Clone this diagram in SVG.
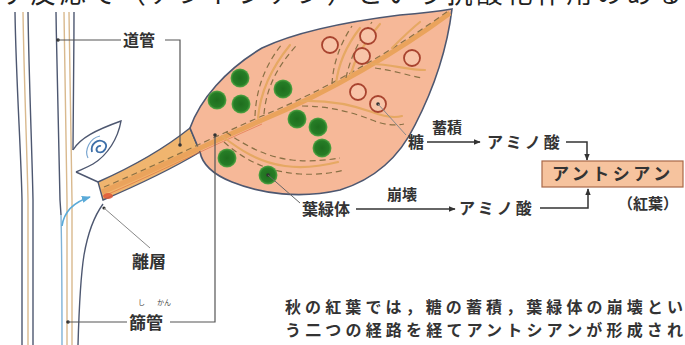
<svg xmlns="http://www.w3.org/2000/svg" width="685" height="345" viewBox="0 0 685 345">
  <defs>
    <marker id="arrow" viewBox="0 0 10 10" refX="9" refY="5" markerWidth="7" markerHeight="7" orient="auto" markerUnits="userSpaceOnUse">
      <path d="M0,1 L10,5 L0,9 z" fill="#333"/>
    </marker>
    <marker id="arrowBlue" viewBox="0 0 10 10" refX="9" refY="5" markerWidth="9" markerHeight="9" orient="auto" markerUnits="userSpaceOnUse">
      <path d="M0,1 L10,5 L0,9 z" fill="#5aaad8"/>
    </marker>
    <radialGradient id="chloro" cx="0.5" cy="0.5" r="0.5">
      <stop offset="0" stop-color="#1e6e1e"/>
      <stop offset="0.75" stop-color="#267d26"/>
      <stop offset="1" stop-color="#58a848"/>
    </radialGradient>
  </defs>
  <style>
    .lbl { font-family: "Noto Sans CJK JP", "Noto Sans", sans-serif; font-weight: 700; fill: #333; }
    .ruby { font-family: "Noto Sans CJK JP", "Noto Sans", sans-serif; font-weight: 400; fill: #444; font-size: 7px; }
    .cap { font-family: "Noto Sans CJK JP", "Noto Sans", sans-serif; font-weight: 700; fill: #333; font-size: 16px; }
    .lead { stroke: #555; stroke-width: 1.2; fill: none; }
    .dot { fill: #333; }
    .flow { stroke: #333; stroke-width: 1.5; fill: none; }
    .bark { stroke: #4d5770; stroke-width: 1.4; fill: none; }
    .tan { stroke: #d9b98e; stroke-width: 1.4; fill: none; }
    .vein { stroke: #e6a863; stroke-width: 2.2; fill: none; stroke-linecap: round; }
    .vdash { stroke: #8a7045; stroke-width: 1.2; fill: none; stroke-dasharray: 6 4; }
    .chl { fill: url(#chloro); }
    .sug { fill: #f8c4a8; stroke: #a8432e; stroke-width: 1.8; }
  </style>

  <rect width="685" height="345" fill="#ffffff"/>

  <!-- running text cut by the top edge -->
  <text x="0" y="3" font-family="'Noto Sans CJK JP', sans-serif" font-size="26" fill="#222" textLength="682" lengthAdjust="spacing">す反応で（アントシアン）という抗酸化作用のある</text>

  <!-- stem -->
  <g id="stem">
    <path class="bark" d="M15,12 C16,80 21,150 22,200 L22,345"/>
    <path class="tan" d="M23,12 C24,80 27,150 28,200 L28,345"/>
    <path class="bark" d="M28,12 C29,80 32,150 33,200 L33,345"/>
    <path class="bark" d="M56,12 C57,80 59,150 60,200 L61,215"/>
    <path d="M61,215 C62,260 62,300 62,345" stroke="#7fb2d6" stroke-width="1.4" fill="none"/>
    <path class="tan" d="M64,12 C65,80 66,150 67,200 L67,345"/>
    <path class="tan" d="M69,12 C70,80 71,150 72,200 L72,345"/>
    <!-- outer bark running into the bud and below the petiole -->
    <path class="bark" d="M74,12 C74,60 73,110 73,150"/>
    <path class="bark" d="M76,172 L98,182"/>
    <path class="bark" d="M103,204 C95,215 88,232 84,255 C80,280 79,310 78,345"/>
  </g>

  <!-- bud -->
  <g id="bud">
    <path d="M73,150 C80,138 96,130 121,121 C118,138 108,155 93,164 C86,168 80,170 76,172" stroke="#4d5770" stroke-width="1.4" fill="#ffffff"/>
    <path d="M92,152 C90,144 98,138 104,142 C109,146 104,154 98,152 C95,150 97,145 101,146" stroke="#3d6fa8" stroke-width="1.8" fill="none"/>
    <path d="M88,158 C84,150 90,138 100,136" stroke="#7aa6d0" stroke-width="1.2" fill="none"/>
  </g>

  <!-- leaf -->
  <g id="leaf">
    <!-- petiole -->
    <path d="M98,182 C125,170 160,152 190,128 L200,152 C180,164 145,182 103,200 Z" fill="#f0b56f" stroke="#4d5770" stroke-width="1.4"/>
    <!-- blade -->
    <path d="M190,128 C200,100 225,70 262,48 C300,30 360,20 400,15 C425,13 440,11 452,9 C447,50 432,92 415,125 C398,160 372,180 340,190 C300,199 262,194 232,182 C212,174 202,163 200,152 Z" fill="#f6b898" stroke="#4d5770" stroke-width="1.6"/>
    <!-- midrib -->
    <path d="M102,192 C150,172 205,145 262,120 C330,92 400,50 450,13" stroke="#eaa35c" stroke-width="5" fill="none"/>
    <path d="M104,187 C150,168 205,141 262,116 C330,88 400,46 448,11" class="vdash"/>
    <path d="M104,196 C150,176 205,149 262,124" stroke="#e06a3a" stroke-width="1" fill="none" opacity="0.6"/>
    <!-- side veins -->
    <path class="vein" d="M222,136 C240,150 258,162 285,166 C305,169 322,166 338,162"/>
    <path class="vdash" d="M226,132 C246,146 266,157 292,160 C312,162 328,160 340,158"/>
    <path class="vdash" d="M224,142 C244,160 268,172 300,174 C318,175 332,173 344,170"/>
    <path class="vein" d="M258,118 C260,95 268,72 290,45"/>
    <path class="vdash" d="M255,116 C256,92 263,68 282,44"/>
    <path class="vdash" d="M264,114 C266,92 274,70 296,46"/>
    <path class="vein" d="M300,101 C325,100 350,104 372,112 C385,117 395,118 402,116"/>
    <path class="vdash" d="M302,106 C328,106 352,112 372,120 C384,125 394,126 404,124"/>
    <path class="vein" d="M336,84 C338,66 346,46 360,28"/>
    <path class="vdash" d="M332,84 C333,64 340,44 352,26"/>
    <path class="vein" d="M350,76 C355,58 366,40 380,24"/>
    <path class="vdash" d="M346,78 C350,58 360,38 372,22"/>
    <path class="vein" d="M372,64 C390,64 408,70 425,70"/>
    <path class="vdash" d="M375,68 C392,70 410,76 422,78"/>
    <path class="vein" d="M392,48 C400,40 410,30 420,22"/>
    <!-- abscission layer -->
    <ellipse cx="108" cy="196" rx="5" ry="3" fill="#e05a3a" opacity="0.85"/>
  </g>

  <!-- chloroplasts -->
  <g id="chloroplasts">
    <circle class="chl" cx="240" cy="78" r="9.5"/>
    <circle class="chl" cx="217" cy="100" r="9.5"/>
    <circle class="chl" cx="241" cy="104" r="9.5"/>
    <circle class="chl" cx="283" cy="89" r="9.5"/>
    <circle class="chl" cx="297" cy="119" r="9.5"/>
    <circle class="chl" cx="318" cy="127" r="9.5"/>
    <circle class="chl" cx="322" cy="148" r="9.5"/>
    <circle class="chl" cx="227" cy="158" r="9.5"/>
    <circle class="chl" cx="268" cy="175" r="9.5"/>
    <circle class="dot" cx="268" cy="175" r="1.8"/>
  </g>

  <!-- sugar granules -->
  <g id="sugars">
    <circle class="sug" cx="330" cy="45" r="8"/>
    <circle class="sug" cx="368" cy="36" r="8"/>
    <circle class="sug" cx="362" cy="56" r="8"/>
    <circle class="sug" cx="412" cy="58" r="8"/>
    <circle class="sug" cx="358" cy="92" r="8"/>
    <circle class="sug" cx="378" cy="104" r="8"/>
    <circle class="dot" cx="378" cy="104" r="1.8"/>
  </g>

  <!-- callouts and flow connectors -->
  <g id="connectors">
    <!-- 道管 -->
    <circle class="dot" cx="58" cy="40" r="1.8"/>
    <path class="lead" d="M58,40 H121"/>
    <path class="lead" d="M165,40 H180 V145"/>
    <circle class="dot" cx="180" cy="145" r="1.8"/>
    <!-- 離層 -->
    <circle class="dot" cx="104" cy="208" r="1.6"/>
    <path d="M104,208 L150,248" stroke="#888" stroke-width="1" fill="none"/>
    <!-- 篩管 -->
    <circle class="dot" cx="68" cy="322" r="1.8"/>
    <path class="lead" d="M68,322 H127"/>
    <path class="lead" d="M170,322 H215 V135"/>
    <circle class="dot" cx="215" cy="135" r="1.8"/>
    <!-- chloroplast / sugar pointers -->
    <path d="M268,175 L300,203" stroke="#666" stroke-width="1" fill="none"/>
    <path d="M378,104 L406,135" stroke="#888" stroke-width="1" fill="none"/>
    <!-- sugar pathway -->
    <path class="flow" d="M427,142 H480" marker-end="url(#arrow)"/>
    <path class="flow" d="M566,142 H587 V160" marker-end="url(#arrow)"/>
    <!-- chloroplast pathway -->
    <path class="flow" d="M356,209 H455" marker-end="url(#arrow)"/>
    <path class="flow" d="M540,208 H588 V189" marker-end="url(#arrow)"/>
    <!-- water uptake -->
    <path d="M62,226 C64,212 74,202 90,197" stroke="#5aaad8" stroke-width="1.6" fill="none" marker-end="url(#arrowBlue)"/>
  </g>

  <!-- labels -->
  <g id="label-xylem"><text class="lbl" x="123" y="46" font-size="16">道管</text></g>
  <g id="label-abscission"><text class="lbl" x="132" y="268" font-size="17">離層</text></g>
  <g id="label-phloem">
    <text class="ruby" x="138" y="305">し</text>
    <text class="ruby" x="157" y="305">かん</text>
    <text class="lbl" x="129" y="329" font-size="17">篩管</text>
  </g>
  <g id="label-chloroplast"><text class="lbl" x="302" y="215" font-size="16">葉緑体</text></g>
  <g id="label-sugar"><text class="lbl" x="408" y="148" font-size="16">糖</text></g>
  <g id="label-accum"><text class="lbl" x="432" y="133" font-size="15">蓄積</text></g>
  <g id="label-collapse"><text class="lbl" x="387" y="200" font-size="15">崩壊</text></g>
  <g id="amino-top"><text class="lbl" x="487" y="148" font-size="16" letter-spacing="3">アミノ酸</text></g>
  <g id="amino-bottom"><text class="lbl" x="459" y="214" font-size="16" letter-spacing="3">アミノ酸</text></g>
  <g id="anthocyanin">
    <rect x="542" y="161" width="141" height="26" fill="#f6c39e" stroke="#a86848" stroke-width="1.2"/>
    <text class="lbl" x="552" y="180" font-size="17" letter-spacing="3.5" fill="#3a2a20">アントシアン</text>
  </g>
  <g id="label-autumn"><text class="lbl" x="618" y="209" font-size="15">（紅葉）</text></g>

  <!-- caption -->
  <g id="caption">
    <text class="cap" x="285" y="313" textLength="398" lengthAdjust="spacing">秋の紅葉では，糖の蓄積，葉緑体の崩壊とい</text>
    <text class="cap" x="285" y="336" textLength="398" lengthAdjust="spacing">う二つの経路を経てアントシアンが形成され</text>
  </g>
</svg>
